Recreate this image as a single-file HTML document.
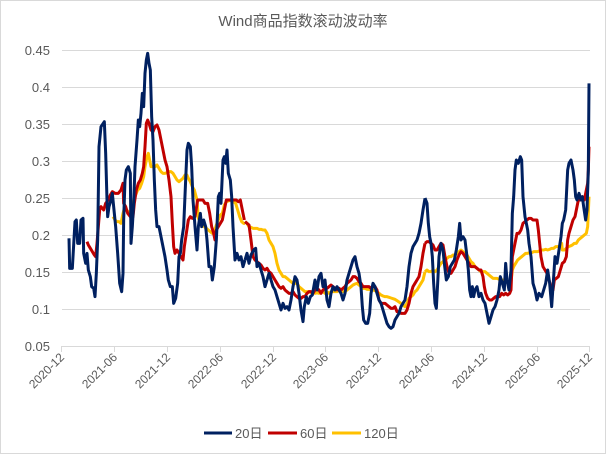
<!DOCTYPE html>
<html><head><meta charset="utf-8"><style>
html,body{margin:0;padding:0;background:#fff;}
svg{display:block;font-family:"Liberation Sans","Noto Sans CJK SC",sans-serif;}
.p{fill:none;stroke-width:3;stroke-linejoin:round;vector-effect:non-scaling-stroke;}
</style></head><body>
<svg width="606" height="454" viewBox="0 0 606 454">
<rect x="0.5" y="0.5" width="605" height="453" fill="#fff" stroke="#d9d9d9"/>
<text x="303" y="26" text-anchor="middle" font-size="15" fill="#595959">Wind商品指数滚动波动率</text>
<g stroke="#d9d9d9" stroke-width="1">
<line x1="62" x2="590" y1="50.5" y2="50.5"/><line x1="62" x2="590" y1="87.5" y2="87.5"/>
<line x1="62" x2="590" y1="124.5" y2="124.5"/><line x1="62" x2="590" y1="161.5" y2="161.5"/>
<line x1="62" x2="590" y1="198.5" y2="198.5"/><line x1="62" x2="590" y1="235.5" y2="235.5"/>
<line x1="62" x2="590" y1="272.5" y2="272.5"/><line x1="62" x2="590" y1="309.5" y2="309.5"/>
<line x1="62" x2="590" y1="346.5" y2="346.5"/>
<line x1="61.5" x2="61.5" y1="346" y2="352"/><line x1="114.5" x2="114.5" y1="346" y2="352"/>
<line x1="167.5" x2="167.5" y1="346" y2="352"/><line x1="220.5" x2="220.5" y1="346" y2="352"/>
<line x1="273.5" x2="273.5" y1="346" y2="352"/><line x1="325.5" x2="325.5" y1="346" y2="352"/>
<line x1="378.5" x2="378.5" y1="346" y2="352"/><line x1="431.5" x2="431.5" y1="346" y2="352"/>
<line x1="484.5" x2="484.5" y1="346" y2="352"/><line x1="537.5" x2="537.5" y1="346" y2="352"/>
<line x1="589.5" x2="589.5" y1="346" y2="352"/>
</g>
<g font-size="13" fill="#595959" text-anchor="end">
<text x="50" y="55">0.45</text><text x="50" y="92">0.4</text><text x="50" y="129">0.35</text>
<text x="50" y="166">0.3</text><text x="50" y="203">0.25</text><text x="50" y="240">0.2</text>
<text x="50" y="277">0.15</text><text x="50" y="314">0.1</text><text x="50" y="351">0.05</text>
</g>
<g font-size="12" fill="#595959" text-anchor="end">
<text transform="translate(65,358) rotate(-45)">2020-12</text>
<text transform="translate(118,358) rotate(-45)">2021-06</text>
<text transform="translate(171,358) rotate(-45)">2021-12</text>
<text transform="translate(224,358) rotate(-45)">2022-06</text>
<text transform="translate(277,358) rotate(-45)">2022-12</text>
<text transform="translate(329,358) rotate(-45)">2023-06</text>
<text transform="translate(382,358) rotate(-45)">2023-12</text>
<text transform="translate(435,358) rotate(-45)">2024-06</text>
<text transform="translate(488,358) rotate(-45)">2024-12</text>
<text transform="translate(541,358) rotate(-45)">2025-06</text>
<text transform="translate(593,358) rotate(-45)">2025-12</text>
</g>
<!-- zoom3 region -->
<g transform="translate(55,40) scale(0.33333)">
<polyline class="p" stroke="#ffc000" points="174,530 180,540 186,545 192,545 198,550 204,520 208,505 214,510 220,515 226,520 232,515 236,480 242,465 248,450 254,445 260,430 266,410 270,380 276,350 280,340 284,360 288,380 294,380 300,380 306,375 312,385 318,395 324,400 330,400 336,398 342,395 348,395 354,400 360,410 366,420 372,425 378,420 384,415 390,405 396,405 400,415 406,425 412,440 418,450 422,465 426,480 430,535 436,545 442,555 448,560 454,565 460,570 466,575 472,580 478,575 484,555 490,540 496,525 502,520 508,495 514,485 522,482 530,482 536,485 542,490 548,510 554,530 560,545 566,550 570,550"/>
<polyline class="p" stroke="#c00000" points="96,605 100,615 106,625 112,635 118,645 122,650 126,610 130,560 134,510 138,500 146,510 152,490 160,480 166,465 172,455 180,460 190,460 198,450 204,430 206,490 212,500 218,520 226,530 234,530 238,490 244,450 250,430 256,420 262,400 266,380 270,320 274,250 278,240 282,250 288,270 294,275 300,260 306,255 312,270 318,300 324,330 330,360 336,380 342,420 348,470 352,550 356,620 360,640 366,630 372,640 378,650 384,660 388,620 394,580 400,540 406,530 412,535 420,530 428,480 436,480 444,480 450,490 458,490 464,520 470,560 476,580 480,600 484,570 490,560 496,550 502,540 508,510 514,480 522,480 530,480 536,480 544,480 550,485 556,480 562,510 568,540"/>
<polyline class="p" stroke="#002060" points="42,595 44,685 52,685 60,545 64,540 68,610 74,610 78,540 84,535 86,640 92,670 96,640 100,690 106,710 110,740 116,745 120,770 124,700 128,600 132,320 138,260 148,245 152,340 156,480 158,530 162,500 168,480 172,460 176,500 182,560 188,640 194,730 200,755 204,700 206,540 210,420 214,390 220,380 226,400 228,610 232,560 236,490 240,380 246,300 250,240 254,260 258,220 262,160 266,200 270,100 274,60 278,40 282,70 286,90 290,230 294,300 298,420 302,510 306,560 312,560 318,590 324,620 330,650 336,690 340,720 346,740 352,740 356,790 362,775 368,730 372,650 376,640 380,600 386,560 392,420 396,330 400,310 406,320 410,380 414,480 420,560 426,630 430,560 436,520 440,560 446,540 452,560 456,600 462,680 468,680 472,720 478,680 484,600 490,470 494,460 498,490 504,360 508,350 512,370 516,330 520,400 526,420 530,470 534,560 540,660 546,640 552,660 558,650 564,680 570,660"/>
</g>
<!-- zoom4 region -->
<g transform="translate(235,140) scale(0.33333)">
<polyline class="p" stroke="#ffc000" points="30,245 36,250 42,260 48,262 54,265 60,265 66,265 72,268 78,268 84,270 90,270 96,280 102,300 108,310 114,320 120,340 126,370 132,390 138,400 144,410 150,410 156,415 162,420 168,425 174,430 180,430 186,430 192,440 198,445 204,450 210,455 216,455 222,455 228,458 234,455 240,460 246,458 252,460 258,455 264,455 270,460 276,455 282,460 288,455 294,455 300,455 306,455 312,450 318,450 324,455 330,455 336,450 342,445 348,440 354,435 360,432 366,430 372,435 378,440 384,445 390,445 396,448 402,448 408,450 414,450 420,452 426,455 432,460 438,465 444,468 450,470 456,470 462,472 468,474 474,476 480,478 486,482 492,486 498,490 504,495 510,500 516,490 522,475 528,470 534,465 540,455 546,450 552,440 558,430 564,420 570,395"/>
<polyline class="p" stroke="#c00000" points="30,245 36,250 42,255 48,300 54,350 60,360 66,365 72,370 78,375 84,385 90,390 96,385 102,395 108,400 114,410 120,420 126,430 132,440 138,445 144,440 150,450 156,455 162,460 168,460 174,455 180,465 186,470 192,475 198,475 204,470 210,470 216,460 222,455 228,455 234,460 240,450 246,445 252,450 258,460 264,450 270,445 276,445 282,440 288,435 294,440 300,445 306,450 312,445 318,450 324,445 330,440 336,430 342,425 348,420 354,410 360,410 366,415 372,425 378,430 384,440 390,440 396,440 402,440 408,445 414,440 420,440 426,450 432,480 438,490 444,490 450,490 456,495 462,500 468,505 474,505 480,500 486,515 492,515 498,520 504,520 510,520 516,510 522,490 528,460 534,440 540,430 546,420 552,410 558,380 564,340 570,310"/>
<polyline class="p" stroke="#002060" points="30,360 36,340 42,370 48,345 56,330 62,325 66,380 72,370 78,390 84,410 90,440 96,420 102,400 108,420 114,440 120,450 126,470 132,490 138,510 144,490 150,505 156,500 162,510 168,480 174,440 180,410 186,420 192,460 198,510 204,545 208,500 214,470 220,490 226,470 232,465 240,420 246,450 252,410 258,400 264,440 270,420 276,480 282,500 288,460 294,440 300,450 306,440 312,450 318,460 324,480 330,460 336,420 342,400 348,380 354,360 360,350 366,380 372,400 378,440 382,500 386,540 392,550 398,550 404,520 408,460 414,430 420,440 426,460 432,480 438,490 444,510 450,530 456,550 462,560 468,565 474,560 480,540 486,530 492,520 498,500 504,490 510,480 516,440 522,380 528,340 534,320 540,310 546,300 552,280 558,250 564,210 570,175"/>
</g>
<!-- zoom5 region -->
<g transform="translate(415,70) scale(0.33333)">
<polyline class="p" stroke="#ffc000" points="30,605 36,600 42,605 48,605 54,600 60,605 66,600 72,590 78,580 84,575 90,570 96,565 102,560 108,560 114,555 120,555 126,550 132,545 138,540 144,545 150,550 156,555 162,565 168,575 174,580 180,590 186,595 192,600 198,605 204,605 210,605 216,610 222,615 228,620 234,625 240,625 246,625 252,628 258,630 264,630 270,632 276,635 282,638 288,635 292,600 296,590 302,580 308,570 314,565 320,560 326,555 332,550 338,550 344,548 350,548 356,545 362,545 368,545 374,542 380,540 386,540 392,538 398,540 404,538 410,535 416,535 422,530 428,530 434,528 440,520 442,540 448,540 454,535 460,530 466,528 472,525 478,520 484,520 490,510 496,505 502,500 508,495 514,490 518,470 522,380"/>
<polyline class="p" stroke="#c00000" points="30,520 36,515 42,515 48,520 54,525 60,540 66,540 72,530 78,520 84,525 90,560 96,590 102,610 108,610 114,600 120,590 126,570 132,555 138,545 144,550 150,560 156,570 162,580 168,590 174,590 180,590 186,595 192,600 198,600 204,620 208,650 212,670 218,685 224,690 230,690 236,685 242,680 248,680 254,680 260,670 266,675 272,670 278,675 284,670 288,660 292,560 296,540 300,520 306,490 312,490 318,480 324,460 330,455 336,450 342,445 348,445 354,450 360,450 366,450 370,480 374,520 378,560 384,590 390,600 396,610 402,630 408,650 414,660 418,630 424,625 430,620 436,600 442,580 448,575 454,560 458,510 462,490 468,470 474,450 480,440 486,410 490,390 496,390 502,380 508,390 512,370 518,340 520,300 522,230"/>
<polyline class="p" stroke="#002060" points="30,384 36,400 40,460 44,500 48,520 52,560 56,640 60,700 64,715 68,640 72,560 78,520 84,540 88,580 94,630 100,620 106,590 112,580 118,570 124,540 130,500 134,460 138,510 144,500 150,510 156,560 160,600 164,660 168,680 172,650 176,680 180,660 186,650 192,680 198,670 204,690 210,700 216,730 222,760 228,740 234,720 240,710 246,690 252,660 256,620 262,640 268,660 272,580 276,630 282,660 288,600 292,430 296,380 300,300 304,270 310,280 316,260 320,270 324,380 330,440 334,460 338,480 342,520 348,560 354,640 360,660 366,690 372,670 380,680 386,660 392,640 398,600 404,640 410,710 416,620 420,560 426,580 432,540 438,500 442,460 446,450 452,420 458,300 462,280 468,270 474,300 478,330 482,380 486,390 492,370 498,390 502,380 506,410 512,450 516,420 520,300 522,40"/>
</g>
<g font-size="13" fill="#595959">
<line x1="204" x2="232" y1="433" y2="433" stroke="#002060" stroke-width="3"/>
<text x="235" y="438">20日</text>
<line x1="268" x2="297" y1="433" y2="433" stroke="#c00000" stroke-width="3"/>
<text x="300" y="438">60日</text>
<line x1="332" x2="361" y1="433" y2="433" stroke="#ffc000" stroke-width="3"/>
<text x="364" y="438">120日</text>
</g>
</svg>
</body></html>
